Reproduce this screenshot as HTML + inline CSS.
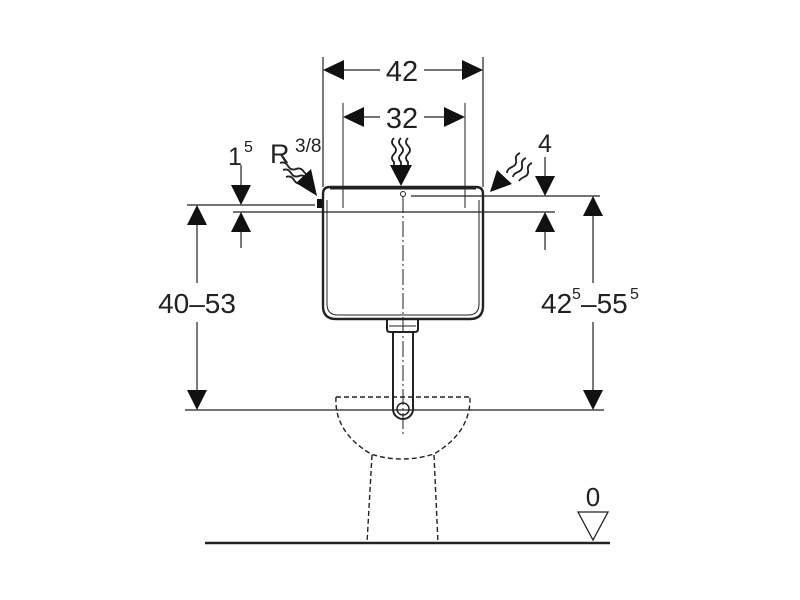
<!DOCTYPE html>
<html><head><style>html,body{margin:0;padding:0;background:#fff}svg{display:block}</style></head>
<body>
<svg width="800" height="600" viewBox="0 0 800 600" xmlns="http://www.w3.org/2000/svg" font-family="Liberation Sans, sans-serif" fill="none" stroke="#222">
<!-- 42 dimension -->
<line x1="323" y1="57" x2="323" y2="187" stroke-width="1.2"/>
<line x1="483" y1="57" x2="483" y2="187" stroke-width="1.2"/>
<line x1="325" y1="70" x2="380" y2="70" stroke-width="1.2"/>
<line x1="424" y1="70" x2="481" y2="70" stroke-width="1.2"/>
<polygon points="323,70 344,60 344,80" fill="#111" stroke="none"/>
<polygon points="483,70 462,60 462,80" fill="#111" stroke="none"/>
<text x="402" y="81" font-size="29" fill="#222" stroke="none" text-anchor="middle">42</text>
<!-- 32 dimension -->
<line x1="343" y1="103" x2="343" y2="208" stroke-width="1"/>
<line x1="465" y1="103" x2="465" y2="208" stroke-width="1"/>
<line x1="345" y1="117" x2="380" y2="117" stroke-width="1.2"/>
<line x1="424" y1="117" x2="463" y2="117" stroke-width="1.2"/>
<polygon points="343,117 364,107 364,127" fill="#111" stroke="none"/>
<polygon points="465,117 444,107 444,127" fill="#111" stroke="none"/>
<text x="402" y="128" font-size="29" fill="#222" stroke="none" text-anchor="middle">32</text>
<!-- wavy arrows -->
<g stroke-width="1.8">
<path d="M394,138 q-4,4 0,8 q4,4 0,8 q-4,4 0,8 l0,4"/>
<path d="M401,138 q-4,4 0,8 q4,4 0,8 q-4,4 0,8 l0,4"/>
<path d="M408,138 q-4,4 0,8 q4,4 0,8 q-4,4 0,8 l0,4"/>
</g>
<polygon points="390,165 412,165 401,186" fill="#111" stroke="none"/>
<g stroke-width="1.8">
<path d="M280,163 q5,-2 8,3 q3,5 8,3 q5,-2 8,3 l3,3"/>
<path d="M283,170 q5,-2 8,3 q3,5 8,3 q5,-2 8,3 l2,2"/>
<path d="M286,177 q5,-2 8,3 q3,5 8,3 q4,-1 6,2"/>
</g>
<polygon points="296,183 311,169 317,196" fill="#111" stroke="none"/>
<g stroke-width="1.8">
<path d="M520,153 q-5,2 -4,7 q1,5 -4,7 q-5,2 -5,6"/>
<path d="M526,158 q-5,2 -4,7 q1,5 -4,7 q-5,2 -5,5"/>
<path d="M532,163 q-5,2 -4,7 q1,5 -4,7 q-4,2 -5,4"/>
</g>
<polygon points="490,192 497,170 512,184" fill="#111" stroke="none"/>
<!-- tank -->
<path d="M323,194 q0,-7 7,-7 h146 q7,0 7,7 v112 q0,13 -13,13 h-134 q-13,0 -13,-13 z" stroke-width="2.4"/>
<path d="M327,200 v104 q0,11 11,11 h130 q11,0 11,-11 v-104" stroke-width="1"/>
<line x1="330" y1="188" x2="476" y2="188" stroke-width="3"/>
<rect x="317" y="199" width="6" height="9" fill="#111" stroke="none"/>
<circle cx="403" cy="194" r="2.5" stroke-width="1"/>
<line x1="411" y1="196" x2="600" y2="196" stroke-width="1.2"/>
<line x1="187" y1="205" x2="315" y2="205" stroke-width="1.2"/>
<line x1="233" y1="212" x2="555" y2="212" stroke-width="1.2"/>
<!-- centre line -->
<line x1="403" y1="197" x2="403" y2="435" stroke-width="1" stroke-dasharray="16,3,2,3"/>
<!-- 1.5 dims -->
<line x1="241" y1="165" x2="241" y2="186" stroke-width="1.2"/>
<polygon points="231,185 251,185 241,205" fill="#111" stroke="none"/>
<polygon points="231,232 251,232 241,212" fill="#111" stroke="none"/>
<line x1="241" y1="232" x2="241" y2="248" stroke-width="1.2"/>
<text x="228" y="165" font-size="25" fill="#222" stroke="none">1</text>
<text x="244" y="152" font-size="16" fill="#222" stroke="none">5</text>
<text x="270" y="163" font-size="27" fill="#222" stroke="none">R</text>
<text x="295" y="152" font-size="19" fill="#222" stroke="none">3/8</text>
<!-- 4 dims -->
<text x="545" y="152" font-size="25" fill="#222" stroke="none" text-anchor="middle">4</text>
<line x1="545" y1="157" x2="545" y2="177" stroke-width="1.2"/>
<polygon points="535,176 555,176 545,196" fill="#111" stroke="none"/>
<polygon points="535,232 555,232 545,212" fill="#111" stroke="none"/>
<line x1="545" y1="232" x2="545" y2="250" stroke-width="1.2"/>
<!-- left big dim -->
<line x1="197" y1="225" x2="197" y2="283" stroke-width="1.2"/>
<line x1="197" y1="322" x2="197" y2="390" stroke-width="1.2"/>
<polygon points="187,225 207,225 197,205" fill="#111" stroke="none"/>
<polygon points="187,390 207,390 197,410" fill="#111" stroke="none"/>
<text x="197" y="313" font-size="28" fill="#222" stroke="none" text-anchor="middle">40–53</text>
<!-- right big dim -->
<line x1="593" y1="216" x2="593" y2="283" stroke-width="1.2"/>
<line x1="593" y1="322" x2="593" y2="390" stroke-width="1.2"/>
<polygon points="583,216 603,216 593,196" fill="#111" stroke="none"/>
<polygon points="583,390 603,390 593,410" fill="#111" stroke="none"/>
<text x="541" y="313" font-size="28" fill="#222" stroke="none">42</text>
<text x="572" y="299" font-size="16" fill="#222" stroke="none">5</text>
<text x="581" y="313" font-size="28" fill="#222" stroke="none">–55</text>
<text x="630" y="299" font-size="16" fill="#222" stroke="none">5</text>
<!-- floor line -->
<line x1="185" y1="410" x2="604" y2="410" stroke-width="1.3"/>
<!-- neck & pipe -->
<path d="M387,319 v10 q0,3 3,3 h25 q3,0 3,-3 v-10" stroke-width="2"/>
<line x1="389" y1="326" x2="416" y2="326" stroke-width="1"/>
<path d="M393,332 v77 a10,10 0 0 0 20,0 v-77" stroke-width="2"/>
<circle cx="403" cy="409" r="6" stroke-width="1.5"/>
<!-- bowl dashed -->
<g stroke-width="1.4" stroke-dasharray="5,3">
<path d="M336,397 h134"/>
<path d="M336,397 q-2,35 35,57 q30,10 63,0 q37,-22 36,-57"/>
<path d="M372,455 l-5,88"/>
<path d="M434,455 l4,88"/>
</g>
<!-- ground -->
<line x1="205" y1="543" x2="610" y2="543" stroke-width="2.5"/>
<polygon points="578,512 608,512 593,540" stroke-width="1.3"/>
<text x="593" y="506" font-size="26" fill="#222" stroke="none" text-anchor="middle">0</text>
</svg>
</body></html>
